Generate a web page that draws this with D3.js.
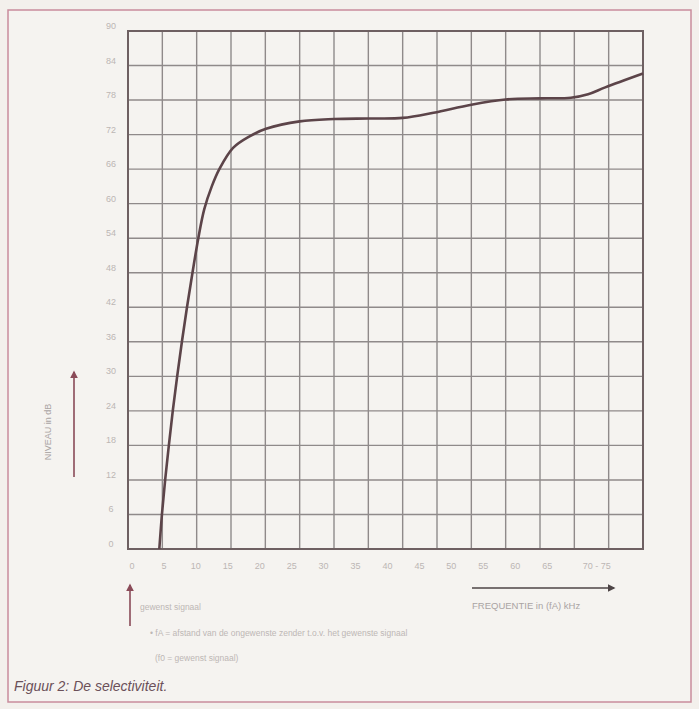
<!DOCTYPE html>
<html>
<head>
<meta charset="utf-8">
<script src="https://cdn.jsdelivr.net/npm/d3@7"></script>
<style>
  body { margin: 0; background: #f3f0ec; }
  svg { display: block; font-family: "Liberation Sans", Arial, sans-serif; }
</style>
</head>
<body>
<div id="vis"></div>
<script>
// frequency (kHz) and level (dB)
const freq  = [4.56, 4.94, 5.41, 5.95, 6.52, 7.16, 7.85, 8.59, 9.39, 10.24, 11.1, 12.2, 13.3, 15.3, 17.7, 20.1, 25, 30, 35, 40, 44.5, 50, 55, 60, 64.5, 67, 69.5, 75];
const level = [0, 6, 12, 18, 24, 30, 36, 42, 48, 54, 59, 63, 66, 69.7, 71.7, 73, 74.3, 74.7, 74.8, 74.9, 75.8, 77.2, 78.1, 78.3, 78.4, 79, 80.2, 82.6];

const xTicks = [0, 5, 10, 15, 20, 25, 30, 35, 40, 45, 50, 55, 60, 65, 70, 75];
const xTickLabels = ["0", "5", "10", "15", "20", "25", "30", "35", "40", "45", "50", "55", "60", "65", "70 - 75"];
const yTicks = [0, 6, 12, 18, 24, 30, 36, 42, 48, 54, 60, 66, 72, 78, 84, 90];

const W = 699, H = 709;
const svg = d3.select("#vis").append("svg")
  .attr("width", W)
  .attr("height", H);

// outer frame
svg.append("rect")
  .attr("x", 8).attr("y", 10)
  .attr("width", 683).attr("height", 692)
  .attr("fill", "#f5f3f0")
  .attr("stroke", "#c98c9c")
  .attr("stroke-width", 1.5);

const x = d3.scaleLinear().domain([0, 75]).range([128, 643]);
const y = d3.scaleLinear().domain([0, 90]).range([549, 31]);

const g = svg.append("g");

// grid
g.selectAll("line.v")
  .data(xTicks)
  .enter().append("line")
  .attr("class", "v")
  .attr("x1", d => x(d)).attr("x2", d => x(d))
  .attr("y1", y(0)).attr("y2", y(90))
  .attr("stroke", "#8f8a8a")
  .attr("stroke-width", 1.4);

g.selectAll("line.h")
  .data(yTicks)
  .enter().append("line")
  .attr("class", "h")
  .attr("x1", x(0)).attr("x2", x(75))
  .attr("y1", d => y(d)).attr("y2", d => y(d))
  .attr("stroke", "#8f8a8a")
  .attr("stroke-width", 1.4);

// plot border
g.append("rect")
  .attr("x", x(0)).attr("y", y(90))
  .attr("width", x(75) - x(0)).attr("height", y(0) - y(90))
  .attr("fill", "none")
  .attr("stroke", "#6e6062")
  .attr("stroke-width", 2);

// tick labels
g.selectAll("text.yt")
  .data(yTicks)
  .enter().append("text")
  .attr("class", "yt")
  .attr("x", 111)
  .attr("y", d => y(d) - 2)
  .attr("text-anchor", "middle")
  .attr("font-size", 9)
  .attr("fill", "#bcb6b4")
  .text(d => d);

// the printed labels drift a little left of the grid lines
g.selectAll("text.xt")
  .data(xTickLabels)
  .enter().append("text")
  .attr("class", "xt")
  .attr("x", (d, i) => i === 14 ? x(xTicks[i]) - 26 : x(xTicks[i]) + 4 - i * 2.4)
  .attr("y", 569)
  .attr("text-anchor", (d, i) => i === 14 ? "start" : "middle")
  .attr("font-size", 9)
  .attr("fill", "#bcb6b4")
  .text(d => d);

// curve
const pts = freq.map((f, i) => [f, level[i]]);
const line = d3.line()
  .x(d => x(d[0]))
  .y(d => y(d[1]))
  .curve(d3.curveCatmullRom.alpha(0.5));

g.append("path")
  .datum(pts)
  .attr("fill", "none")
  .attr("stroke", "#5c4449")
  .attr("stroke-width", 2.6)
  .attr("d", line);

// arrows
const defs = svg.append("defs");
function marker(id, color) {
  defs.append("marker")
    .attr("id", id)
    .attr("viewBox", "0 0 10 10")
    .attr("refX", 8).attr("refY", 5)
    .attr("markerWidth", 5).attr("markerHeight", 5)
    .attr("orient", "auto")
    .append("path")
    .attr("d", "M0,0L10,5L0,10z")
    .attr("fill", color);
}
marker("ar-red", "#8a4a58");
marker("ar-dark", "#4d4446");

// y arrow + label
svg.append("line")
  .attr("x1", 74).attr("x2", 74)
  .attr("y1", 477).attr("y2", 372)
  .attr("stroke", "#8a4a58").attr("stroke-width", 1.6)
  .attr("marker-end", "url(#ar-red)");

svg.append("text")
  .attr("transform", "translate(51,432) rotate(-90)")
  .attr("text-anchor", "middle")
  .attr("font-size", 9)
  .attr("fill", "#aaa4a3")
  .text("NIVEAU in dB");

// x arrow + label
svg.append("line")
  .attr("x1", 472).attr("x2", 614)
  .attr("y1", 588).attr("y2", 588)
  .attr("stroke", "#4d4446").attr("stroke-width", 1.5)
  .attr("marker-end", "url(#ar-dark)");

svg.append("text")
  .attr("x", 472).attr("y", 609)
  .attr("font-size", 9.5)
  .attr("fill", "#aaa4a3")
  .text("FREQUENTIE in  (fA) kHz");

// wanted signal arrow + notes
svg.append("line")
  .attr("x1", 130).attr("x2", 130)
  .attr("y1", 626).attr("y2", 585)
  .attr("stroke", "#8a4a58").attr("stroke-width", 1.6)
  .attr("marker-end", "url(#ar-red)");

svg.append("text")
  .attr("x", 140).attr("y", 610)
  .attr("font-size", 8.5)
  .attr("fill", "#bdb7b5")
  .text("gewenst signaal");

svg.append("text")
  .attr("x", 150).attr("y", 636)
  .attr("font-size", 8.5)
  .attr("fill", "#bdb7b5")
  .text("• fA = afstand van de ongewenste zender t.o.v. het gewenste signaal");

svg.append("text")
  .attr("x", 155).attr("y", 661)
  .attr("font-size", 8.5)
  .attr("fill", "#bdb7b5")
  .text("(f0 = gewenst signaal)");

// caption
svg.append("text")
  .attr("x", 14).attr("y", 691)
  .attr("font-size", 14)
  .attr("font-style", "italic")
  .attr("fill", "#6b5059")
  .text("Figuur 2: De selectiviteit.");
</script>
</body>
</html>
